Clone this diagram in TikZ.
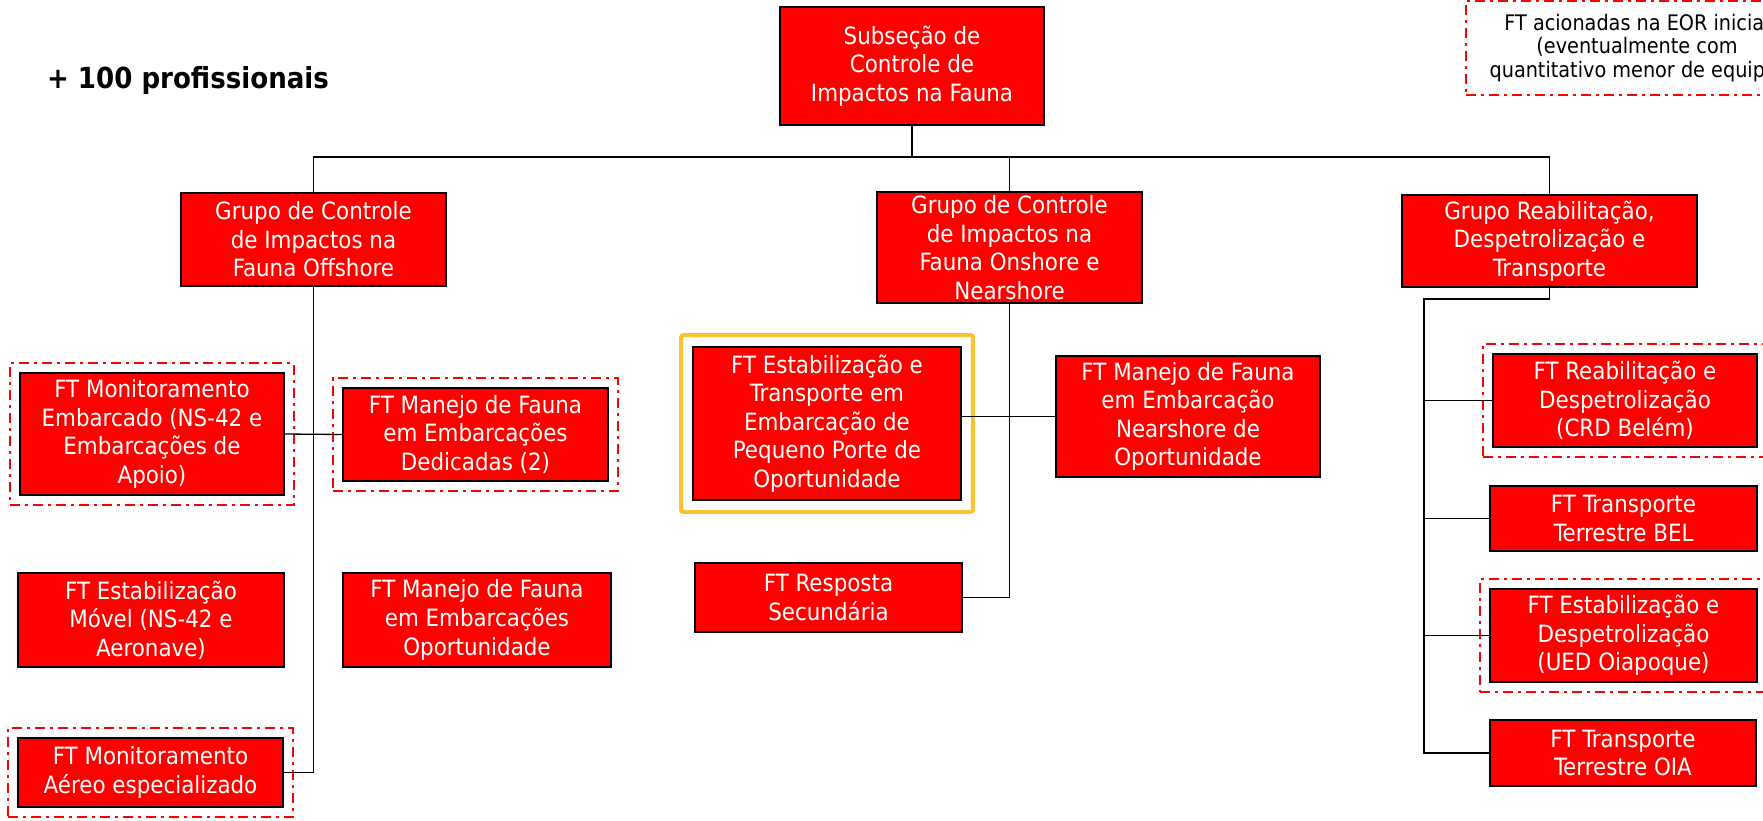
\documentclass[tikz,border=0pt]{standalone}
\usepackage{fontspec}
\setmainfont{DejaVu Sans Condensed}
\usetikzlibrary{fit}
\definecolor{gold}{RGB}{250,196,48}
\tikzset{wh/.style 2 args={minimum width=#1*0.5pt, minimum height=#2*0.5pt},
    ftbox/.style={draw=black, fill=red, text=white, line width=0.85pt,
        align=center, inner sep=0pt, font=\fontsize{11.9}{14.3}\selectfont},
    ftframe/.style={draw=red, line width=1.2pt, inner sep=4.5pt,
        dash pattern=on 5pt off 2.5pt on 1.5pt off 2.5pt},
    link/.style={draw=black, line width=0.65pt},
    }
\begin{document}
\begin{tikzpicture}[x=0.5pt, y=-0.5pt]
	\useasboundingbox (0,0) rectangle (1763,820);
	\node[anchor=west, font=\bfseries\fontsize{14.5}{18}\selectfont] (total) at (40,80) {+ 100 profissionais};
	\node[ftframe, align=center, wh={342}{94}, font=\fontsize{10.7}{11.7}\selectfont] (legend) at (1637,48)
		{FT acionadas na EOR inicial\\(eventualmente com\\quantitativo menor de equipe)};
	% top and groups
	\node[ftbox, wh={264}{118}] (sub) at (912,66) {Subseção de\\Controle de\\Impactos na Fauna};
	\node[ftbox, wh={265}{93}] (off) at (313.5,239.5) {Grupo de Controle\\de Impactos na\\Fauna Offshore};
	\node[ftbox, wh={265}{111}] (on) at (1009.5,247.5) {Grupo de Controle\\de Impactos na\\Fauna Onshore e\\Nearshore};
	\node[ftbox, wh={295}{92}] (rdt) at (1549.5,241) {Grupo Reabilitação,\\Despetrolização e\\Transporte};
	% offshore
	\node[ftbox, wh={264}{122}] (monemb) at (152,434) {FT Monitoramento\\Embarcado (NS-42 e\\Embarcações de\\Apoio)};
	\node[ftbox, wh={265}{93}] (manded) at (475.5,434.5) {FT Manejo de Fauna\\em Embarcações\\Dedicadas (2)};
	\node[ftbox, wh={266}{94}] (estmov) at (151,620) {FT Estabilização\\Móvel (NS-42 e\\Aeronave)};
	\node[ftbox, wh={268}{94}] (manopo) at (477,620) {FT Manejo de Fauna\\em Embarcações\\Oportunidade};
	\node[ftbox, wh={265}{69}] (monaer) at (150.5,772.5) {FT Monitoramento\\Aéreo especializado};
	% onshore
	\node[ftbox, wh={268}{153}] (esttra) at (827,423.5) {FT Estabilização e\\Transporte em\\Embarcação de\\Pequeno Porte de\\Oportunidade};
	\node[ftbox, wh={267}{69}] (resp) at (828.5,597.5) {FT Resposta\\Secundária};
	\node[ftbox, wh={264}{121}] (mannear) at (1188,416.5) {FT Manejo de Fauna\\em Embarcação\\Nearshore de\\Oportunidade};
	% reabilitacao
	\node[ftbox, wh={264}{93}] (reab) at (1625,400.5) {FT Reabilitação e\\Despetrolização\\(CRD Belém)};
	\node[ftbox, wh={267}{65}] (bel) at (1623.5,518.5) {FT Transporte\\Terrestre BEL};
	\node[ftbox, wh={267}{93}] (ued) at (1623.5,635.5) {FT Estabilização e\\Despetrolização\\(UED Oiapoque)};
	\node[ftbox, wh={266}{66}] (oia) at (1623,753) {FT Transporte\\Terrestre OIA};
	% frames
	\foreach \n in {monemb,manded,monaer,reab,ued}
		\node[ftframe, fit=(\n)] {};
	\node[draw=gold, line width=2pt, rounded corners=1pt, inner sep=5.5pt, fit=(esttra)] (first) {};
	% links
	\coordinate (bus) at (912,157);
	\coordinate (rtrunk) at (1424,299);
	\draw[link] (sub) -- (bus);
	\draw[link] (off.north) |- (bus) -| (rdt.north);
	\draw[link] (on.north) -- (on.north |- bus);
	\draw[link] (off.south) |- (monaer.east);
	\draw[link] (monemb.east) -- (manded.west);
	\draw[link] (on.south) |- (resp.east);
	\draw[link] (mannear.west -| esttra.east) -- (mannear.west);
	\draw[link] (rdt.south) |- (rtrunk) -- (rtrunk |- oia.west) -- (oia.west);
	\foreach \n in {reab,bel,ued}
		\draw[link] (rtrunk |- \n.west) -- (\n.west);
\end{tikzpicture}
\end{document}
